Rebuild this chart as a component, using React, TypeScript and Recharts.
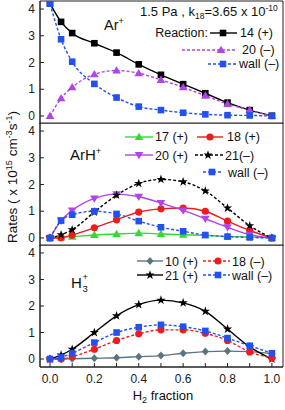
import { LineChart, Line, XAxis, YAxis, ReferenceArea } from "recharts";

// H2 fraction sampled in every panel
const h2Fraction = [0, 0.05, 0.1, 0.2, 0.3, 0.4, 0.5, 0.6, 0.7, 0.8, 0.9, 1.0];

const xTicks = [0, 0.1, 0.2, 0.3, 0.4, 0.5, 0.6, 0.7, 0.8, 0.9, 1.0];
const xTickLabels = ["0.0", "", "0.2", "", "0.4", "", "0.6", "", "0.8", "", "1.0"];
const yTicks = [0, 1, 2, 3, 4];

// Ar+ panel
const arR14 = [4.2, 3.52, 3.1, 2.72, 2.37, 1.93, 1.54, 1.19, 0.85, 0.5, 0.22, 0.01];
const arR20 = [0, 0.66, 1.07, 1.56, 1.7, 1.6, 1.35, 1.07, 0.76, 0.45, 0.22, 0.0];
const arWall = [4.2, 2.87, 2.03, 1.2, 0.69, 0.35, 0.22, 0.12, 0.06, 0.03, 0.02, 0.0];

// ArH+ panel
const arhR17 = [0, 0.02, 0.05, 0.11, 0.15, 0.18, 0.15, 0.12, 0.1, 0.06, 0.04, 0];
const arhR18 = [0, 0.01, 0.11, 0.38, 0.68, 0.97, 1.09, 1.12, 1.0, 0.63, 0.28, 0];
const arhR20 = [0, 0.65, 1.03, 1.48, 1.64, 1.54, 1.31, 1.03, 0.72, 0.4, 0.12, 0];
const arhR21 = [0, 0.12, 0.31, 0.97, 1.6, 2.04, 2.19, 2.1, 1.76, 1.12, 0.46, 0];
const arhWall = [0, 0.65, 0.87, 1.0, 0.9, 0.63, 0.4, 0.25, 0.11, 0.05, 0.02, 0];

// H3+ panel
const h3R10 = [0, 0, 0.01, 0.03, 0.05, 0.09, 0.13, 0.22, 0.28, 0.3, 0.28, 0.2];
const h3R21 = [0, 0.15, 0.37, 1.0, 1.63, 2.05, 2.22, 2.12, 1.8, 1.13, 0.46, 0];
const h3R18 = [0, 0, 0.09, 0.37, 0.7, 0.95, 1.1, 1.1, 0.97, 0.7, 0.27, 0.04];
const h3Wall = [0, 0.06, 0.22, 0.62, 1.0, 1.2, 1.29, 1.22, 1.06, 0.79, 0.5, 0.22];

const BLACK = "#000000";
const PURPLE = "#b043ea";
const BLUE = "#2250f2";
const GREEN = "#2fdc2f";
const RED = "#ee1c1c";
const GRAY = "#5c7482";
const DASH = "3 2";

const X_DOMAIN: [number, number] = [-0.045, 1.05];
const Y_DOMAIN: [number, number] = [-0.3, 4.3];

type Shape = "square" | "triUp" | "triDown" | "circle" | "star" | "diamond";

function starPoints(cx: number, cy: number, ro: number, ri: number) {
  const pts: string[] = [];
  for (let i = 0; i < 10; i++) {
    const r = i % 2 === 0 ? ro : ri;
    const a = -Math.PI / 2 + (i * Math.PI) / 5;
    pts.push(`${cx + r * Math.cos(a)},${cy + r * Math.sin(a)}`);
  }
  return pts.join(" ");
}

function Marker({ cx, cy, shape, color }: { cx: number; cy: number; shape: Shape; color: string }) {
  if (cx == null || cy == null) return null;
  switch (shape) {
    case "square":
      return <rect x={cx - 3.3} y={cy - 3.3} width={6.6} height={6.6} fill={color} />;
    case "triUp":
      return <polygon points={`${cx},${cy - 4.3} ${cx - 4.3},${cy + 3} ${cx + 4.3},${cy + 3}`} fill={color} />;
    case "triDown":
      return <polygon points={`${cx},${cy + 4.3} ${cx - 4.3},${cy - 3} ${cx + 4.3},${cy - 3}`} fill={color} />;
    case "circle":
      return <circle cx={cx} cy={cy} r={3.6} fill={color} />;
    case "star":
      return <polygon points={starPoints(cx, cy, 4.8, 1.9)} fill={color} />;
    case "diamond":
      return <polygon points={`${cx},${cy - 4} ${cx + 3.6},${cy} ${cx},${cy + 4} ${cx - 3.6},${cy}`} fill={color} />;
  }
  return null;
}

const dot = (shape: Shape, color: string) => (p: any) => (
  <Marker key={`${shape}-${p.index}`} cx={p.cx} cy={p.cy} shape={shape} color={color} />
);

interface SeriesDef {
  key: string;
  values: number[];
  color: string;
  dashed: boolean;
  shape: Shape;
}

interface PanelProps {
  series: SeriesDef[];
  top: number;
  height: number;
  axisHeight: number;
  showXLabels: boolean;
}

function Panel({ series, top, height, axisHeight, showXLabels }: PanelProps) {
  const data = h2Fraction.map((x, i) => {
    const row: Record<string, number> = { x };
    series.forEach((s) => (row[s.key] = s.values[i]));
    return row;
  });

  return (
    <div style={{ position: "absolute", left: 0, top }}>
      <LineChart width={285} height={height} data={data} margin={{ top: 1, right: 2, bottom: 0, left: 0 }}>
        <XAxis
          dataKey="x"
          type="number"
          domain={X_DOMAIN}
          allowDataOverflow
          ticks={xTicks}
          interval={0}
          height={axisHeight}
          tickSize={-4}
          tickMargin={showXLabels ? 11 : 0}
          axisLine={{ stroke: "#222" }}
          tickLine={{ stroke: "#222" }}
          tick={{ fontSize: 12, fill: "#222" }}
          tickFormatter={(v: number) => (showXLabels ? xTickLabels[Math.round(v * 10)] : "")}
        />
        <YAxis
          type="number"
          domain={Y_DOMAIN}
          allowDataOverflow
          ticks={yTicks}
          interval={0}
          width={40}
          tickSize={-4}
          tickMargin={9}
          axisLine={{ stroke: "#222" }}
          tickLine={{ stroke: "#222" }}
          tick={{ fontSize: 12, fill: "#222" }}
        />
        <ReferenceArea x1={X_DOMAIN[0]} x2={X_DOMAIN[1]} y1={Y_DOMAIN[0]} y2={Y_DOMAIN[1]} fill="none" stroke="#222" strokeWidth={1} />
        {series.map((s) => (
          <Line
            key={s.key}
            type="monotone"
            dataKey={s.key}
            stroke={s.color}
            strokeWidth={1.4}
            strokeDasharray={s.dashed ? DASH : undefined}
            dot={dot(s.shape, s.color)}
            activeDot={false}
            isAnimationActive={false}
          />
        ))}
      </LineChart>
    </div>
  );
}

function Sample({ x1, x2, mx, y, color, dashed, shape }: { x1: number; x2: number; mx: number; y: number; color: string; dashed: boolean; shape: Shape }) {
  return (
    <g>
      <line x1={x1} x2={x2} y1={y} y2={y} stroke={color} strokeWidth={1.4} strokeDasharray={dashed ? DASH : undefined} />
      <Marker cx={mx} cy={y} shape={shape} color={color} />
    </g>
  );
}

function Annotations() {
  const t = { fontSize: 12.5, fill: "#111" };
  return (
    <svg width={285} height={410} style={{ position: "absolute", left: 0, top: 0, pointerEvents: "none" }}>
      {/* panel 1 */}
      <text x={140} y={16} fontSize={13} fill="#111">
        1.5 Pa , k<tspan dy={3} fontSize={8.5}>18</tspan>
        <tspan dy={-3}>=3.65 x 10</tspan>
        <tspan dy={-5} fontSize={8.5}>-10</tspan>
      </text>
      <text x={208} y={37} textAnchor="end" {...t}>Reaction:</text>
      <Sample x1={210} x2={237} mx={223} y={33} color={BLACK} dashed={false} shape="square" />
      <text x={240} y={37} {...t}>14 (+)</text>
      <Sample x1={182} x2={235} mx={221} y={50} color={PURPLE} dashed shape="triUp" />
      <text x={242} y={54} {...t}>20 (–)</text>
      <Sample x1={208} x2={237} mx={223} y={64} color={BLUE} dashed shape="square" />
      <text x={239} y={68} {...t}>wall (–)</text>
      <text x={104} y={30} fontSize={14.5} fill="#111">
        Ar<tspan dy={-6} fontSize={9}>+</tspan>
      </text>

      {/* panel 2 */}
      <Sample x1={125} x2={153} mx={139} y={137} color={GREEN} dashed={false} shape="triUp" />
      <text x={155} y={141} {...t}>17 (+)</text>
      <Sample x1={197} x2={223} mx={210} y={137} color={RED} dashed={false} shape="circle" />
      <text x={227} y={141} {...t}>18 (+)</text>
      <Sample x1={125} x2={153} mx={139} y={155} color={PURPLE} dashed={false} shape="triDown" />
      <text x={155} y={160} {...t}>20 (+)</text>
      <Sample x1={195} x2={223} mx={208} y={155} color={BLACK} dashed shape="star" />
      <text x={225} y={160} {...t}>21(–)</text>
      <Sample x1={203} x2={223} mx={212} y={172} color={BLUE} dashed shape="square" />
      <text x={228} y={177} {...t}>wall (–)</text>
      <text x={70} y={160} fontSize={15} fill="#111">
        ArH<tspan dy={-6} fontSize={9.5}>+</tspan>
      </text>

      {/* panel 3 */}
      <Sample x1={137} x2={163} mx={150} y={261} color={GRAY} dashed={false} shape="diamond" />
      <text x={165} y={266} {...t}>10 (+)</text>
      <Sample x1={203} x2={230} mx={218} y={261} color={RED} dashed shape="circle" />
      <text x={232} y={266} {...t}>18 (–)</text>
      <Sample x1={137} x2={163} mx={150} y={275} color={BLACK} dashed={false} shape="star" />
      <text x={165} y={280} {...t}>21 (+)</text>
      <Sample x1={203} x2={230} mx={218} y={275} color={BLUE} dashed shape="square" />
      <text x={232} y={280} {...t}>wall (–)</text>
      <text x={71} y={288} fontSize={15} fill="#111">
        H<tspan x={82.5} dy={4} fontSize={9.5}>3</tspan>
        <tspan x={82.5} dy={-12} fontSize={9.5}>+</tspan>
      </text>

      {/* axis titles */}
      <text transform="translate(17,177) rotate(-90)" textAnchor="middle" fontSize={13.5} fill="#111">
        Rates ( x 10<tspan dy={-5} fontSize={9}>15</tspan>
        <tspan dy={5}> cm</tspan>
        <tspan dy={-5} fontSize={9}>-3</tspan>
        <tspan dy={5}>s</tspan>
        <tspan dy={-5} fontSize={9}>-1</tspan>
        <tspan dy={5}>)</tspan>
      </text>
      <text x={163} y={400} textAnchor="middle" fontSize={13} fill="#111">
        H<tspan dy={3} fontSize={9}>2</tspan>
        <tspan dy={-3}> fraction</tspan>
      </text>
    </svg>
  );
}

export default function App() {
  return (
    <div
      style={{
        position: "absolute",
        left: 0,
        top: 0,
        width: 285,
        height: 410,
        background: "#fff",
        fontFamily: "'Liberation Sans', Arial, sans-serif",
      }}
    >
      <Panel
        top={0}
        height={124}
        axisHeight={0}
        showXLabels={false}
        series={[
          { key: "r14", values: arR14, color: BLACK, dashed: false, shape: "square" },
          { key: "r20", values: arR20, color: PURPLE, dashed: true, shape: "triUp" },
          { key: "wall", values: arWall, color: BLUE, dashed: true, shape: "square" },
        ]}
      />
      <Panel
        top={122}
        height={124}
        axisHeight={0}
        showXLabels={false}
        series={[
          { key: "r17", values: arhR17, color: GREEN, dashed: false, shape: "triUp" },
          { key: "r18", values: arhR18, color: RED, dashed: false, shape: "circle" },
          { key: "r20", values: arhR20, color: PURPLE, dashed: false, shape: "triDown" },
          { key: "r21", values: arhR21, color: BLACK, dashed: true, shape: "star" },
          { key: "wall", values: arhWall, color: BLUE, dashed: true, shape: "square" },
        ]}
      />
      <Panel
        top={244}
        height={166}
        axisHeight={43}
        showXLabels
        series={[
          { key: "r10", values: h3R10, color: GRAY, dashed: false, shape: "diamond" },
          { key: "r21", values: h3R21, color: BLACK, dashed: false, shape: "star" },
          { key: "r18", values: h3R18, color: RED, dashed: true, shape: "circle" },
          { key: "wall", values: h3Wall, color: BLUE, dashed: true, shape: "square" },
        ]}
      />
      <Annotations />
    </div>
  );
}
